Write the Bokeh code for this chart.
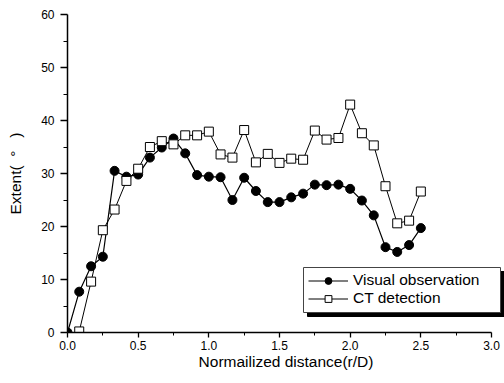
from bokeh.plotting import figure
from bokeh.models import Range1d, FixedTicker, NumeralTickFormatter, Legend, LegendItem, BoxAnnotation
from bokeh.embed import file_html
from bokeh.resources import INLINE

# Data
visual_x = [0.0, 0.083, 0.167, 0.25, 0.333, 0.417, 0.5, 0.583, 0.667, 0.75, 0.833, 0.917,
            1.0, 1.083, 1.167, 1.25, 1.333, 1.417, 1.5, 1.583, 1.667, 1.75, 1.833, 1.917,
            2.0, 2.083, 2.167, 2.25, 2.333, 2.417, 2.5]
visual_y = [0.0, 7.7, 12.5, 14.3, 30.5, 29.4, 29.8, 33.0, 34.9, 36.6, 33.8, 29.7,
            29.4, 29.3, 25.0, 29.2, 26.7, 24.6, 24.6, 25.5, 26.2, 27.9, 27.8, 27.9,
            27.1, 24.9, 22.1, 16.1, 15.2, 16.5, 19.7]

ct_x = [0.083, 0.167, 0.25, 0.333, 0.417, 0.5, 0.583, 0.667, 0.75, 0.833, 0.917,
        1.0, 1.083, 1.167, 1.25, 1.333, 1.417, 1.5, 1.583, 1.667, 1.75, 1.833, 1.917,
        2.0, 2.083, 2.167, 2.25, 2.333, 2.417, 2.5]
ct_y = [0.2, 9.6, 19.3, 23.2, 28.6, 30.9, 35.0, 36.1, 35.5, 37.2, 37.2,
        37.9, 33.6, 33.0, 38.2, 32.1, 33.7, 32.0, 32.8, 32.6, 38.1, 36.4, 36.7,
        43.0, 37.6, 35.3, 27.6, 20.6, 21.1, 26.6]

x_ticks = [0.0, 0.5, 1.0, 1.5, 2.0, 2.5, 3.0]
x_minor = [0.25, 0.75, 1.25, 1.75, 2.25, 2.75]
y_ticks = [0, 10, 20, 30, 40, 50, 60]
y_minor = [5, 15, 25, 35, 45, 55]

labels = ["Visual observation", "CT detection"]
x_label = "Normailized distance(r/D)"
y_label = "Extent(\u00a0\u00a0°\u00a0\u00a0\u00a0)"

FONT = "Liberation Sans"

# frame spans to the canvas edge so the legend box can overhang the axis end;
# the axis itself is bounded to 0..3
p = figure(width=504, height=383, x_range=Range1d(0, 3.092), y_range=Range1d(0, 60),
           output_backend="svg", toolbar_location=None,
           min_border_left=67, min_border_right=0, min_border_top=14, min_border_bottom=51)
p.grid.visible = False
p.outline_line_color = None

for ax in (p.xaxis[0], p.yaxis[0]):
    ax.axis_line_width = 1.5
    ax.axis_line_color = "black"
    ax.major_tick_line_color = "black"
    ax.minor_tick_line_color = "black"
    ax.major_tick_line_width = 1.3
    ax.major_tick_in = 0
    ax.minor_tick_in = 0
    ax.major_label_text_font = FONT
    ax.major_label_text_font_size = "12px"
    ax.major_label_text_color = "black"
    ax.axis_label_text_font = FONT
    ax.axis_label_text_font_size = "15.5px"
    ax.axis_label_text_font_style = "normal"
    ax.axis_label_text_color = "black"

p.xaxis.bounds = (0, 3)
p.xaxis.ticker = FixedTicker(ticks=x_ticks, minor_ticks=x_minor)
p.xaxis.formatter = NumeralTickFormatter(format="0.0")
p.xaxis.major_tick_out = 5
p.xaxis.minor_tick_out = 3
p.xaxis.major_label_standoff = 3
p.xaxis.axis_label_standoff = 0
p.xaxis.axis_label = x_label

p.yaxis.ticker = FixedTicker(ticks=y_ticks, minor_ticks=y_minor)
p.yaxis.formatter = NumeralTickFormatter(format="0")
p.yaxis.major_tick_out = 7
p.yaxis.minor_tick_out = 4
p.yaxis.major_label_standoff = 6
p.yaxis.axis_label_standoff = 14
p.yaxis.axis_label = y_label

l1 = p.line(visual_x, visual_y, line_color="black", line_width=1.2)
s1 = p.scatter(visual_x, visual_y, marker="circle", size=9, fill_color="black", line_color="black")
l2 = p.line(ct_x, ct_y, line_color="black", line_width=1.0)
s2 = p.scatter(ct_x, ct_y, marker="square", size=9, fill_color="white", line_color="black", line_width=1)

# legend frame with drop shadow (canvas pixels)
shadow_box = BoxAnnotation(left=307, right=504, top=271, bottom=316,
                           left_units="canvas", right_units="canvas",
                           top_units="canvas", bottom_units="canvas",
                           fill_color="black", fill_alpha=1, line_color="black", line_alpha=1)
frame_box = BoxAnnotation(left=303, right=500, top=267, bottom=312,
                          left_units="canvas", right_units="canvas",
                          top_units="canvas", bottom_units="canvas",
                          fill_color="white", fill_alpha=1, line_color="#444444",
                          line_alpha=1, line_width=1)
p.add_layout(shadow_box)
p.add_layout(frame_box)

legend = Legend(items=[LegendItem(label=labels[0], renderers=[l1, s1]),
                       LegendItem(label=labels[1], renderers=[l2, s2])],
                location=(236, 20))
legend.padding = 5
legend.spacing = 0
legend.glyph_height = 17
legend.label_height = 17
legend.glyph_width = 40
legend.label_standoff = 5
legend.label_text_font = FONT
legend.label_text_font_size = "15.5px"
legend.label_text_color = "black"
legend.margin = 0
legend.background_fill_alpha = 0
legend.border_line_alpha = 0
p.add_layout(legend)

open("out.html", "w").write(file_html(p, INLINE))
